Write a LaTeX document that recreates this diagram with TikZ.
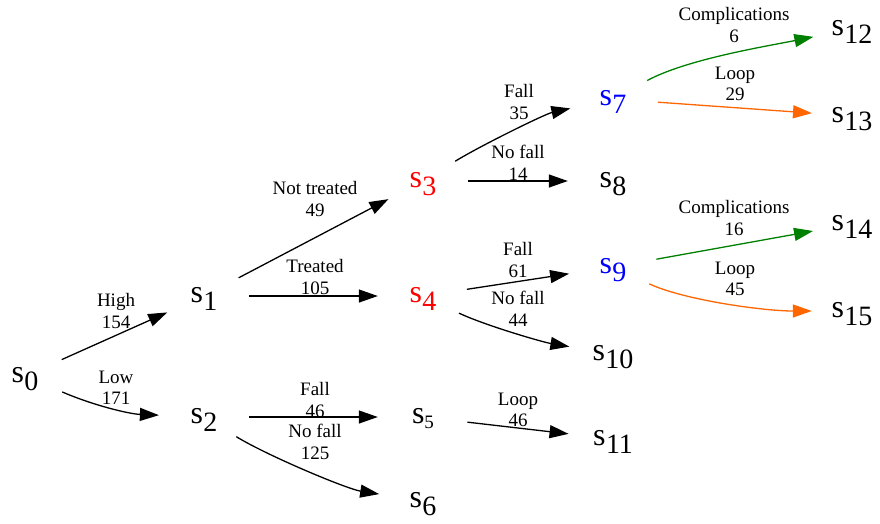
\documentclass[tikz,border=0pt]{standalone}
\usepackage{fontspec}
\setmainfont{Liberation Serif}
\usetikzlibrary{arrows.meta,shapes.geometric}
\definecolor{gvgreen}{RGB}{0,128,0}
\definecolor{gvorange}{RGB}{255,102,0}
\newcommand{\stt}[1]{\fontsize{32}{32}\selectfont s\kern0.5pt\raisebox{-8pt}{\fontsize{28}{28}\selectfont #1}}
\newcommand{\sfive}{\fontsize{32}{32}\selectfont s\raisebox{-5pt}{\fontsize{19}{19}\selectfont 5}}
\begin{document}
\begin{tikzpicture}[x=1pt,y=-1pt,
  state/.style={ellipse,draw=none,inner sep=0pt,minimum width=90pt,minimum height=56pt,
    text height=18pt,text depth=6pt},
  last/.style={state,minimum width=80pt},
  lab/.style={align=center,inner sep=0pt,font=\fontsize{19}{21.5}\selectfont},
  edge/.style={line width=1.3pt,-{Triangle[length=19pt,width=13pt]}},
  gedge/.style={edge,draw=gvgreen},
  oedge/.style={edge,draw=gvorange}]
\useasboundingbox (0,0) rectangle (880,523);
% states
\node[state] (s0) at (25,376) {\stt{0}};
\node[state] (s1) at (204,296) {\stt{1}};
\node[state] (s2) at (204,417) {\stt{2}};
\node[state,text=red] (s3) at (423,181) {\stt{3}};
\node[state,text=red] (s4) at (423,296) {\stt{4}};
\node[state] (s5) at (423,417) {\sfive};
\node[state] (s6) at (423,501) {\stt{6}};
\node[state,text=blue] (s7) at (613,99) {\stt{7}};
\node[state] (s8) at (613,181) {\stt{8}};
\node[state,text=blue] (s9) at (613,267) {\stt{9}};
\node[state] (s10) at (613,354) {\stt{10}};
\node[state] (s11) at (613,439) {\stt{11}};
\node[last] (s12) at (852,29) {\stt{12}};
\node[last] (s13) at (852,116) {\stt{13}};
\node[last] (s14) at (852,224) {\stt{14}};
\node[last] (s15) at (852,311) {\stt{15}};
% edges
\draw[edge] (s0) -- (s1);
\draw[edge] (s0) .. controls (95,406) and (130,414) .. (s2);
\draw[edge] (s1) -- (s3);
\draw[edge] (s1) -- (s4);
\draw[edge] (s2) -- (s5);
\draw[edge] (s2) .. controls (268,456) and (347,489) .. (s6);
\draw[edge] (s3) .. controls (480,146) and (545,114) .. (s7);
\draw[edge] (s3) -- (s8);
\draw[edge] (s4) -- (s9);
\draw[edge] (s4) .. controls (484,325) and (542,342) .. (s10);
\draw[edge] (s5) -- (s11);
\draw[gedge] (s7) .. controls (687,59) and (768,46) .. (s12);
\draw[oedge] (s7) -- (s13);
\draw[gedge] (s9) -- (s14);
\draw[oedge] (s9) .. controls (684,300) and (763,311) .. (s15);
% labels
\node[lab] (l01) at (116,311) {High\\154};
\node[lab] (l02) at (116,388) {Low\\171};
\node[lab] (l13) at (315,199) {Not treated\\49};
\node[lab] (l14) at (315,277) {Treated\\105};
\node[lab] (l25) at (315,400) {Fall\\46};
\node[lab] (l26) at (315,442) {No fall\\125};
\node[lab] (l37) at (519,102) {Fall\\35};
\node[lab] (l38) at (518,163) {No fall\\14};
\node[lab] (l49) at (518,260) {Fall\\61};
\node[lab] (l410) at (518,309) {No fall\\44};
\node[lab] (l511) at (518,410) {Loop\\46};
\node[lab] (l712) at (734,25) {Complications\\6};
\node[lab] (l713) at (735,84) {Loop\\29};
\node[lab] (l914) at (734,218) {Complications\\16};
\node[lab] (l915) at (735,279) {Loop\\45};
\end{tikzpicture}
\end{document}
